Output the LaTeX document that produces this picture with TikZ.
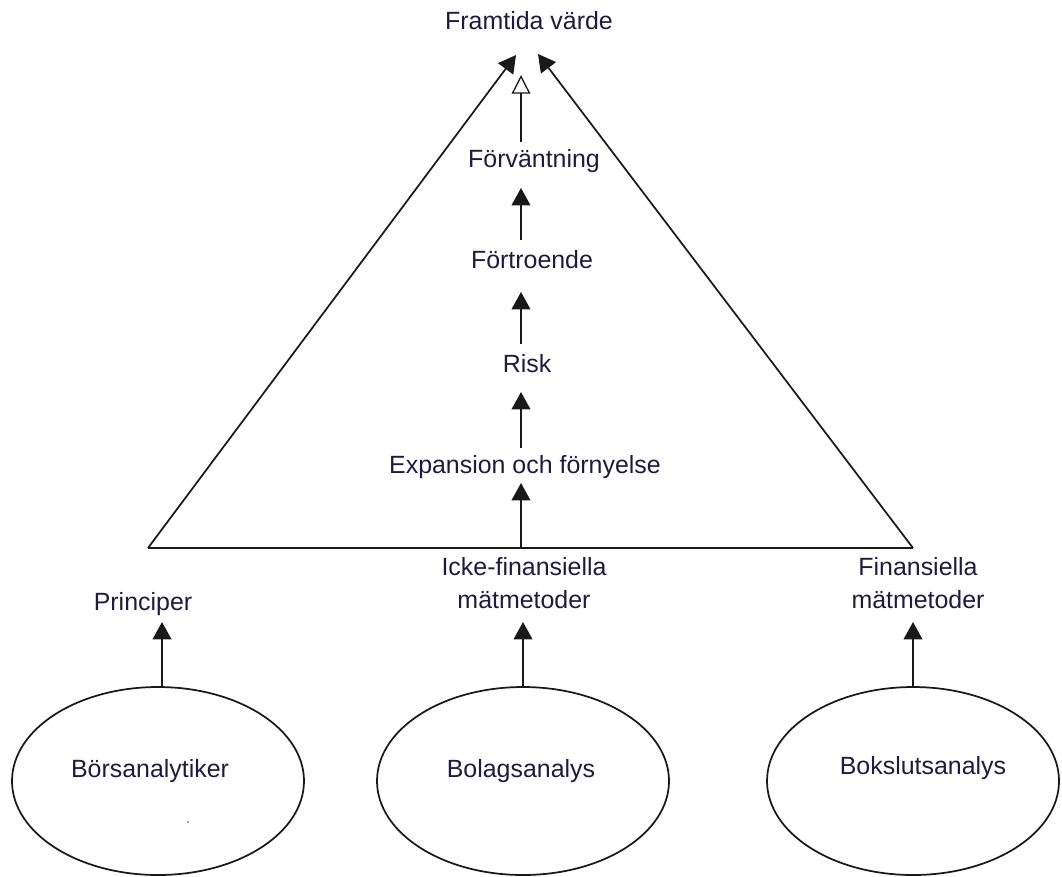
\documentclass[tikz,border=0pt]{standalone}
\usepackage{fontspec}
\setmainfont{Liberation Sans}
\usetikzlibrary{arrows.meta,shapes.geometric}
\definecolor{txt}{RGB}{30,26,66}
\begin{document}
\begin{tikzpicture}[x=0.75pt,y=-0.75pt,
  lbl/.style={anchor=base,inner sep=0pt,text=txt,font=\fontsize{18.7}{24.5}\selectfont,align=center},
  ln/.style={line width=1.3pt,draw=black!90},
  arr/.style={ln,-{Triangle[length=13pt,width=14pt]}},
  harr/.style={ln,-{Triangle[open,length=14pt,width=14pt,line width=1pt]}},
  oval/.style={ellipse,draw=black!90,line width=1.3pt,minimum width=292pt*0.75,minimum height=188pt*0.75,inner sep=0pt}]
\useasboundingbox (0,0) rectangle (1062,876);
% labels
\node[lbl] (tFram) at (529,29) {Framtida värde};
\node[lbl] (tForv) at (534,167) {Förväntning};
\node[lbl] (tFort) at (532,268) {Förtroende};
\node[lbl] (tRisk) at (527,372) {Risk};
\node[lbl] (tExp) at (525,473) {Expansion och förnyelse};
\node[lbl] (tIcke) at (524,608) {Icke-finansiella\\mätmetoder};
\node[lbl] (tPrin) at (143,610) {Principer};
\node[lbl] (tFin) at (918,608) {Finansiella\\mätmetoder};
% ellipses
\node[oval] (eL) at (158,781) {};
\node[oval] (eM) at (523,781) {};
\node[oval] (eR) at (913,781) {};
\node[lbl] (tBors) at (150,777) {Börsanalytiker};
\node[lbl] (tBol) at (521,777) {Bolagsanalys};
\node[lbl] (tBok) at (923,774) {Bokslutsanalys};
\fill[black!80] (188,822) circle (0.7pt);
% triangle corners and arrow tips
\coordinate (cL) at (148,548);
\coordinate (cR) at (913,548);
\coordinate (pL) at (516,55);
\coordinate (pR) at (538,54);
\coordinate (pH) at (521,75);
\coordinate (bH) at (521,142);
\coordinate (a1t) at (521,188);
\coordinate (a1b) at (521,240);
\coordinate (a2t) at (521,292);
\coordinate (a2b) at (521,344);
\coordinate (a3t) at (521,392);
\coordinate (a3b) at (521,448);
\coordinate (a4t) at (521,483);
\coordinate (a4b) at (521,548);
\draw[ln] (cL) -- (cR);
\draw[arr] (cL) -- (pL);
\draw[arr] (cR) -- (pR);
\draw[harr] (bH) -- (pH);
\draw[arr] (a1b) -- (a1t);
\draw[arr] (a2b) -- (a2t);
\draw[arr] (a3b) -- (a3t);
\draw[arr] (a4b) -- (a4t);
% arrows from ellipses
\coordinate (uL) at (162,622);
\coordinate (uM) at (523,622);
\coordinate (uR) at (913,622);
\draw[arr] (eL.north -| uL) -- (uL);
\draw[arr] (eM.north) -- (uM);
\draw[arr] (eR.north) -- (uR);
\end{tikzpicture}
\end{document}
